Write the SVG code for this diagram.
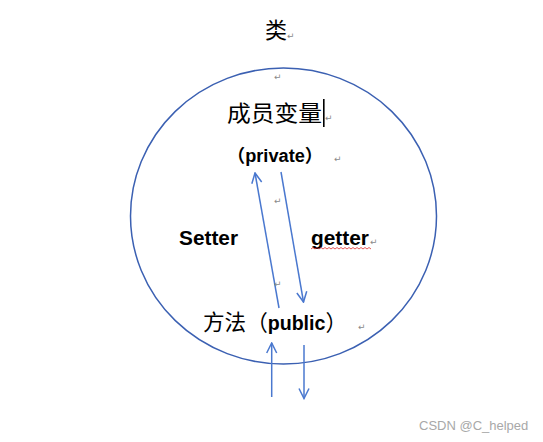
<svg xmlns="http://www.w3.org/2000/svg" width="543" height="442" viewBox="0 0 543 442">
<style>
.cjk{font-family:"Noto Sans CJK SC","Noto Sans",sans-serif;fill:#000}
.lat{font-family:"Liberation Sans","Noto Sans CJK SC",sans-serif;font-weight:bold;fill:#000}
.mark{font-family:"DejaVu Sans",sans-serif;font-size:9px;fill:#8a8a8a}
.arr{stroke:#4a78cf;stroke-width:1.5;fill:none}
.wm{font-family:"Liberation Sans",sans-serif;font-size:13px;fill:#a8a8a8}
</style>
<defs>
<marker id="ah" viewBox="0 0 12 12" refX="11" refY="6" markerWidth="12" markerHeight="12" markerUnits="userSpaceOnUse" orient="auto">
<path d="M1,1 L11,6 L1,11" fill="none" stroke="#4a78cf" stroke-width="1.5"/>
</marker>
</defs>
<rect width="543" height="442" fill="#fff"/>
<g id="title">
<text class="cjk" x="265" y="38" font-size="22">类</text>
<text class="mark" x="287" y="39">↵</text>
</g>
<g id="class-circle">
<ellipse cx="283.5" cy="216" rx="153" ry="148" fill="none" stroke="#3b60b2" stroke-width="1.5"/>
<text class="mark" x="274" y="80">↵</text>
</g>
<g id="members">
<text class="cjk" x="227" y="121" font-size="22" textLength="95" lengthAdjust="spacingAndGlyphs">成员变量</text>
<rect x="323" y="99" width="1.6" height="28" fill="#000"/>
<text class="mark" x="325" y="121">↵</text>
<text class="lat" x="227" y="162" font-size="18" textLength="96" lengthAdjust="spacingAndGlyphs">（private）</text>
<text class="mark" x="334" y="162">↵</text>
</g>
<g id="setter">
<text class="lat" x="179" y="245" font-size="20" textLength="59" lengthAdjust="spacingAndGlyphs">Setter</text>
</g>
<g id="getter">
<text class="lat" x="311" y="245" font-size="20" textLength="58" lengthAdjust="spacingAndGlyphs">getter</text>
<path d="M311,249 l2,-1.5 l2,1.5 l2,-1.5 l2,1.5 l2,-1.5 l2,1.5 l2,-1.5 l2,1.5 l2,-1.5 l2,1.5 l2,-1.5 l2,1.5 l2,-1.5 l2,1.5 l2,-1.5 l2,1.5 l2,-1.5 l2,1.5 l2,-1.5 l2,1.5 l2,-1.5 l2,1.5 l2,-1.5 l2,1.5 l2,-1.5 l2,1.5 l2,-1.5 l2,1.5 l2,-1.5 l2,1.5" fill="none" stroke="#e03030" stroke-width="0.8"/>
<text class="mark" x="370" y="245">↵</text>
</g>
<g id="methods">
<text class="cjk" x="203" y="330" font-size="22" textLength="144" lengthAdjust="spacingAndGlyphs">方法（<tspan class="lat" font-size="20">public</tspan>）</text>
<text class="mark" x="358" y="330">↵</text>
</g>
<g id="connectors">
<line class="arr" x1="279" y1="308" x2="255" y2="173" marker-end="url(#ah)"/>
<line class="arr" x1="281" y1="172" x2="303.5" y2="302" marker-end="url(#ah)"/>
<line class="arr" x1="271.7" y1="397" x2="271.7" y2="343" marker-end="url(#ah)"/>
<line class="arr" x1="304" y1="345" x2="304" y2="398.5" marker-end="url(#ah)"/>
<text class="mark" x="274" y="204">↵</text>
<text class="mark" x="274" y="287">↵</text>
</g>
<g id="watermark">
<text class="wm" x="419" y="430">CSDN @C_helped</text>
</g>
</svg>
